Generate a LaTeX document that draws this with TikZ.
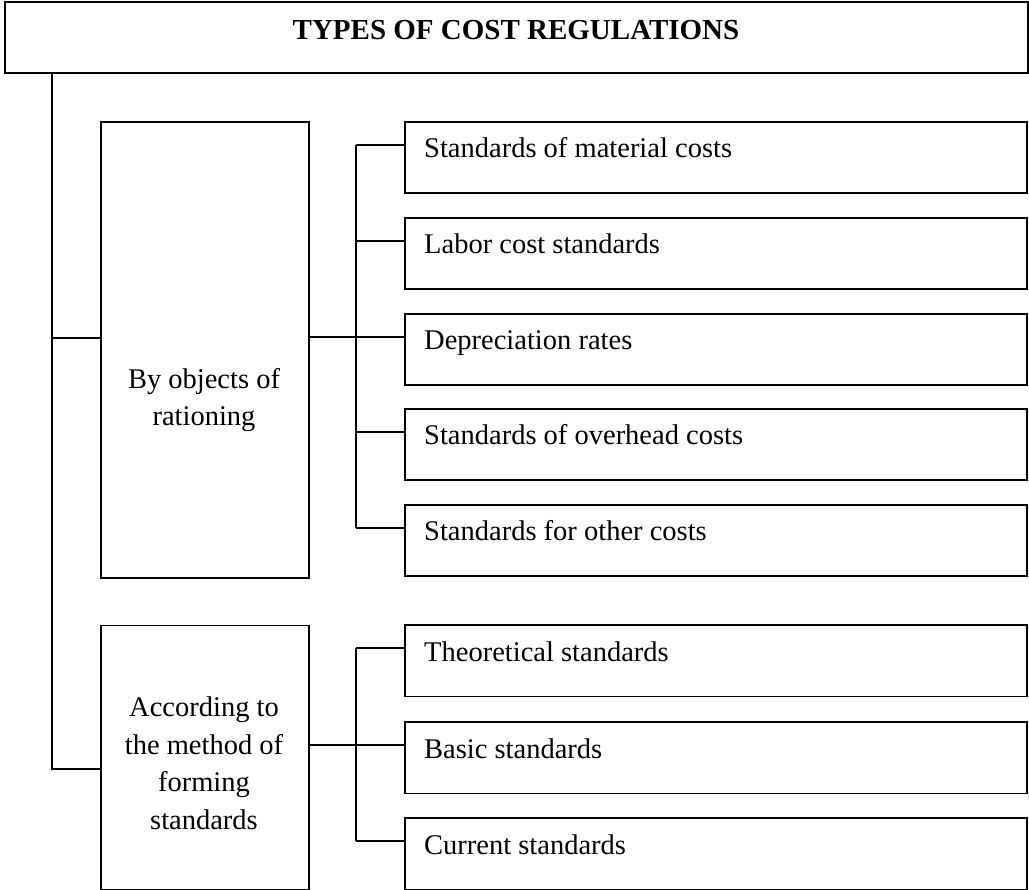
\documentclass[tikz,border=0pt]{standalone}
\usepackage{fontspec}
\setmainfont{Liberation Serif}
\begin{document}
\begin{tikzpicture}[x=1pt,y=-1pt,
  frame/.style={draw=black, line width=1.7pt, fill=white, inner sep=0pt, anchor=north west},
  link/.style={draw=black, line width=1.8pt},
  txt/.style={font=\fontsize{28.5}{37.5}\selectfont, inner sep=0pt},
  headtxt/.style={font=\fontsize{29}{34}\selectfont\bfseries, inner sep=0pt}]
\useasboundingbox (0,0) rectangle (1029,890);

% heading
\node[frame, minimum width=1023pt, minimum height=71pt] (title) at (4,1.5) {};
\node[headtxt, anchor=base] (titletext) at (516,40) {TYPES OF COST REGULATIONS};

% first-level groups (multi-line text is placed by the baseline of its last line)
\node[frame, minimum width=208pt, minimum height=456pt] (obj) at (100,121) {};
\node[frame, minimum width=208pt, minimum height=264pt] (meth) at (100,624.5) {};
\node[txt, align=center, anchor=base] (objtext) at (204,426) {By objects of\\rationing};
\node[txt, align=center, anchor=base] (methtext) at (204,829) {According to\\the method of\\forming\\standards};

% items of the first group
\foreach \n/\y/\t in {r1/121/Standards of material costs,
                      r2/217/Labor cost standards,
                      r3/313/Depreciation rates,
                      r4/408/Standards of overhead costs,
                      r5/504/Standards for other costs} {
  \node[frame, minimum width=622pt, minimum height=71pt] (\n) at (404,\y) {};
  \node[txt, anchor=base west] (\n text) at ([shift={(20pt,-37pt)}]\n.north west) {\t};
  \coordinate (\n p) at ([yshift=12pt]\n.west);
}

% items of the second group
\foreach \n/\y/\t in {s1/624/Theoretical standards,
                      s2/721/Basic standards,
                      s3/817/Current standards} {
  \node[frame, minimum width=622pt, minimum height=71.5pt] (\n) at (404,\y) {};
  \node[txt, anchor=base west] (\n text) at ([shift={(20pt,-37pt)}]\n.north west) {\t};
  \coordinate (\n p) at ([yshift=12.5pt]\n.west);
}

% bus positions
\coordinate (trunk) at (52,0);
\coordinate (bus) at (356,0);
\coordinate (objp) at ([yshift=12pt]obj.west);
\coordinate (methp) at ([yshift=-11.5pt]meth.west);

% main trunk from the heading
\draw[link] (title.south -| trunk) -- (methp -| trunk) -- (methp);
\draw[link] (objp -| trunk) -- (objp);

% first group connectors
\draw[link] (r1p -| bus) -- (r5p -| bus);
\draw[link] (obj.east |- r3p) -- (r3p);
\foreach \n in {r1,r2,r4,r5} \draw[link] (\n p -| bus) -- (\n p);

% second group connectors
\draw[link] (s1p -| bus) -- (s3p -| bus);
\draw[link] (meth.east |- s2p) -- (s2p);
\foreach \n in {s1,s3} \draw[link] (\n p -| bus) -- (\n p);
\end{tikzpicture}
\end{document}
